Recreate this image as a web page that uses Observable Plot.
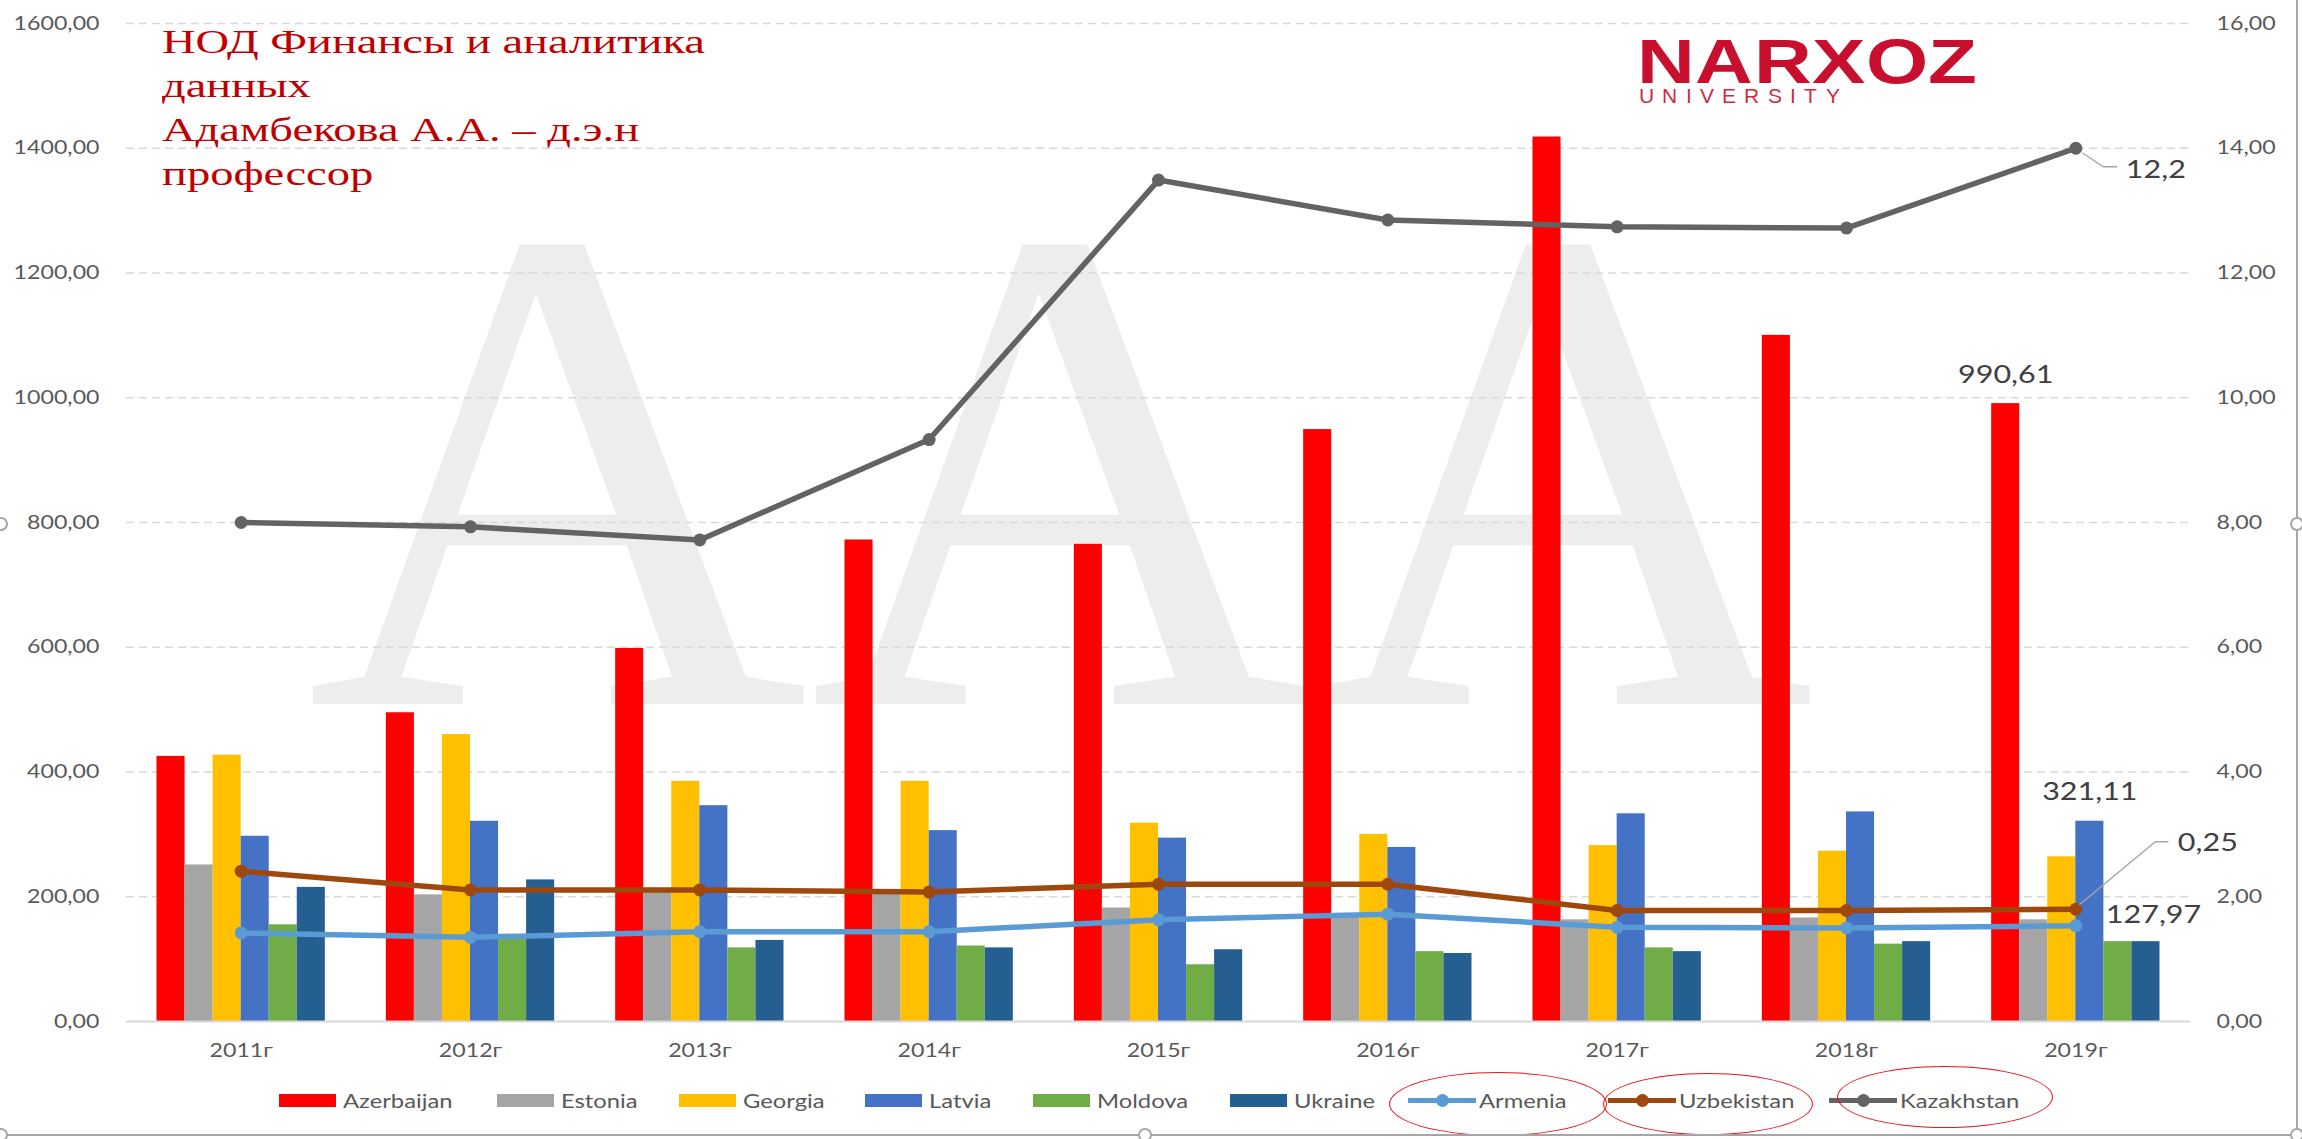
<!DOCTYPE html>
<html>
<head>
<meta charset="utf-8">
<script src="https://cdn.jsdelivr.net/npm/d3@7"></script>
<script src="https://cdn.jsdelivr.net/npm/@observablehq/plot@0.6"></script>
<style>
/* same faces with tight line metrics, so the text boxes hug the capitals */
@font-face { font-family: "WMSerif"; src: local("Liberation Serif"), local("LiberationSerif"); ascent-override: 67%; descent-override: 2%; line-gap-override: 0%; }
@font-face { font-family: "LogoBold"; src: local("Liberation Sans Bold"), local("LiberationSans-Bold"); ascent-override: 73%; descent-override: 2%; line-gap-override: 0%; }
@font-face { font-family: "LogoReg"; src: local("Liberation Sans"), local("LiberationSans"); ascent-override: 73%; descent-override: 2%; line-gap-override: 0%; }
html, body { margin: 0; padding: 0; background: #fff; }
#wrap { position: relative; width: 2302px; height: 1139px; overflow: hidden; background: #fff; font-family: Lato, "Noto Sans", sans-serif; }
#chart { position: absolute; left: 0; top: 0; }
#title { position: absolute; left: 162px; top: 20px; font-family: "Liberation Serif", serif; font-size: 33px; line-height: 44px; color: #C00000; transform: scaleX(1.41); transform-origin: left top; white-space: nowrap; }
#logo1 { position: absolute; left: 1637px; top: 37px; font-family: "LogoBold", "Liberation Sans", Arial, sans-serif; font-size: 63px; line-height: 47.3px; height: 47.3px; color: #C8102E; transform: scaleX(1.27); transform-origin: left top; white-space: nowrap; }
#logo2 { position: absolute; left: 1639px; top: 87.7px; font-family: "LogoReg", "Liberation Sans", Arial, sans-serif; font-size: 21px; line-height: 15.8px; height: 15.8px; color: #D02A44; letter-spacing: 8.3px; white-space: nowrap; }
.lg { position: absolute; top: 1088px; height: 24px; display: flex; align-items: center; white-space: nowrap; }
.sw { display: inline-block; width: 57px; height: 13px; margin-right: 7px; }
.ls { position: relative; display: inline-block; width: 68px; height: 24px; margin-right: 3px; }
.ls .ln { position: absolute; left: 0; right: 0; top: 9.5px; height: 5px; }
.ls .mk { position: absolute; left: 27.5px; top: 5.5px; width: 13px; height: 13px; border-radius: 50%; }
.tx { display: inline-block; font-size: 19.5px; color: #595959; transform: scaleX(1.22); transform-origin: left center; }
.ell { position: absolute; border: 1.6px solid #E8141B; border-radius: 50%; box-sizing: border-box; }
.frame { position: absolute; background: #A6A6A6; }
.handle { position: absolute; width: 14px; height: 14px; border-radius: 50%; background: #fff; border: 2px solid #A6A6A6; box-sizing: border-box; }
</style>
</head>
<body>
<div id="wrap">
  <svg width="2302" height="1139" style="position:absolute;left:0;top:0;" aria-hidden="true"><text x="306" y="704" fill="#EDEDED" style="font-family:WMSerif,'Liberation Serif',serif;font-size:696px;">ААА</text></svg>
  <div id="chart"></div>
  <div id="title">НОД Финансы и аналитика<br>данных<br>Адамбекова А.А. – д.э.н<br>профессор</div>
  <div id="logo1">NARXOZ</div>
  <div id="logo2">UNIVERSITY</div>
  <div id="legend"></div>
</div>
<script>
// ---------- DATA ----------
const years = ["2011г", "2012г", "2013г", "2014г", "2015г", "2016г", "2017г", "2018г", "2019г"];
const barSeries = ["Azerbaijan", "Estonia", "Georgia", "Latvia", "Moldova", "Ukraine"];
const azerbaijan = [425, 495, 598, 772, 765, 949, 1418, 1100, 990.61];
const estonia    = [251, 203, 208, 206, 182, 168, 163, 166, 163];
const georgia    = [427, 460, 385, 385, 318, 300, 282, 273, 264];
const latvia     = [297, 321, 346, 306, 294, 279, 333, 336, 321.11];
const moldova    = [155, 134, 118, 121, 91, 112, 118, 124, 128];
const ukraine    = [215, 227, 130, 118, 115, 109, 112, 128, 128];
// line series on the secondary (right) axis
const lineSeries = ["Armenia", "Uzbekistan", "Kazakhstan"];
const armenia    = [1.42, 1.35, 1.44, 1.44, 1.63, 1.72, 1.51, 1.50, 1.535];
const uzbekistan = [2.41, 2.11, 2.11, 2.075, 2.20, 2.20, 1.78, 1.78, 1.80];
const kazakhstan = [8.00, 7.93, 7.72, 9.33, 13.49, 12.85, 12.74, 12.72, 14.00];
const leftTicks  = [0, 200, 400, 600, 800, 1000, 1200, 1400, 1600];
const rightTicks = [0, 2, 4, 6, 8, 10, 12, 14, 16];
const barLabels   = [{series: "Azerbaijan", year: "2019г"}, {series: "Latvia", year: "2019г"}];
const pointLabels = [
  {series: "Kazakhstan", year: "2019г", text: "12,2"},
  {series: "Uzbekistan", year: "2019г", text: "0,25"},
  {series: "Armenia",    year: "2019г", text: "127,97"}
];

// ---------- STYLE ----------
const barColors  = ["#FF0000", "#A5A5A5", "#FFC000", "#4472C4", "#70AD47", "#255E91"];
const lineColors = ["#5B9BD5", "#9E480E", "#636363"];
const RATIO = 100;          // left axis = right axis * 100
const GROUP = 0.734;        // share of a category occupied by the bar group
const BW = GROUP / barSeries.length;
const STRETCH = 1.22;
const labelLayout = [
  {dx: 50, dy: 21.5, path: [[7, 5], [28, 19], [42, 19]]},
  {dx: 102, dy: -66, path: [[4, -4], [80, -67], [93, -67]]},
  {dx: 30, dy: -11, path: null}
];
const legendLeft = [279, 497, 679, 865, 1033, 1230, 1408, 1608, 1829];
const ellipses = [[1389, 1072, 218, 64], [1603, 1073, 210, 62], [1837, 1066, 216, 62]];

// ---------- TABLES ----------
const barValues = {Azerbaijan: azerbaijan, Estonia: estonia, Georgia: georgia, Latvia: latvia, Moldova: moldova, Ukraine: ukraine};
const lineValues = {Armenia: armenia, Uzbekistan: uzbekistan, Kazakhstan: kazakhstan};
const bars = barSeries.flatMap((s, k) => years.map((y, i) => ({series: s, i, k, value: barValues[s][i]})));
const points = lineSeries.flatMap(s => years.map((y, i) => ({series: s, i, value: lineValues[s][i]})));
const fmt = v => v.toFixed(2).replace(".", ",");
const barLabelData = barLabels.map(b => {
  const i = years.indexOf(b.year), k = barSeries.indexOf(b.series), v = barValues[b.series][i];
  return {x: i - GROUP / 2 + (k + 0.5) * BW, y: v, text: fmt(v)};
});
const pointLabelData = pointLabels.map(p => {
  const i = years.indexOf(p.year);
  return {x: i, y: lineValues[p.series][i] * RATIO, text: p.text};
});

function leaders(index, scales) {
  const g = d3.create("svg:g").attr("fill", "none").attr("stroke", "#A6A6A6").attr("stroke-width", 1.3);
  pointLabelData.forEach((d, j) => {
    const L = labelLayout[j];
    if (!L.path) return;
    const x0 = scales.x(d.x), y0 = scales.y(d.y);
    g.append("path").attr("d", "M" + L.path.map(([a, b]) => (x0 + a) + "," + (y0 + b)).join("L"));
  });
  return g.node();
}

const plot = Plot.plot({
  width: 2302,
  height: 1075,
  marginTop: 23,
  marginBottom: 54,
  marginLeft: 126,
  marginRight: 112,
  style: {background: "transparent", fontFamily: "Lato, 'Noto Sans', sans-serif", fontSize: "19px", color: "#595959"},
  x: {type: "linear", domain: [-0.5, years.length - 0.5]},
  y: {domain: [0, 1600]},
  color: {domain: [...barSeries, ...lineSeries], range: [...barColors, ...lineColors]},
  marks: [
    Plot.gridY({ticks: leftTicks.filter(d => d > 0), stroke: "#D9D9D9", strokeOpacity: 1, strokeWidth: 1.3, strokeDasharray: "8,5"}),
    Plot.rectY(bars, {
      x1: d => d.i - GROUP / 2 + d.k * BW,
      x2: d => d.i - GROUP / 2 + (d.k + 1) * BW,
      y1: 0, y2: "value", fill: "series"
    }),
    Plot.ruleY([0], {stroke: "#D9D9D9", strokeWidth: 2}),
    Plot.line(points, {x: "i", y: d => d.value * RATIO, z: "series", stroke: "series", strokeWidth: 5.5, strokeLinejoin: "round"}),
    Plot.dot(points, {x: "i", y: d => d.value * RATIO, fill: "series", r: 6.5}),
    Plot.axisX({ticks: d3.range(years.length), tickFormat: i => years[i], tickSize: 0, tickPadding: 22, label: null}),
    Plot.axisY({anchor: "left", ticks: leftTicks, tickFormat: fmt, tickSize: 0, tickPadding: 27, label: null}),
    Plot.axisY({anchor: "right", ticks: rightTicks.map(t => t * RATIO), tickFormat: d => fmt(d / RATIO), tickSize: 0, tickPadding: 26, label: null}),
    Plot.text(barLabelData, {x: "x", y: "y", text: "text", dy: -29, fontSize: 25, fill: "#404040"}),
    leaders,
    ...pointLabelData.map((d, j) => Plot.text([d], {x: "x", y: "y", text: "text", dx: labelLayout[j].dx, dy: labelLayout[j].dy, textAnchor: "start", fontSize: 25, fill: "#404040"}))
  ]
});
document.getElementById("chart").appendChild(plot);

// widen the lettering like the (horizontally stretched) original
plot.querySelectorAll("text").forEach(t => {
  const L = t.getComputedTextLength();
  if (L > 0) { t.setAttribute("textLength", (L * STRETCH).toFixed(1)); t.setAttribute("lengthAdjust", "spacingAndGlyphs"); }
});

// ---------- LEGEND (HTML) ----------
const legend = document.getElementById("legend");
const allSeries = [...barSeries, ...lineSeries];
const allColors = [...barColors, ...lineColors];
allSeries.forEach((s, j) => {
  const item = document.createElement("div");
  item.className = "lg";
  item.style.left = legendLeft[j] + "px";
  if (j < barSeries.length) {
    item.innerHTML = `<span class="sw" style="background:${allColors[j]}"></span><span class="tx">${s}</span>`;
  } else {
    item.innerHTML = `<span class="ls"><span class="ln" style="background:${allColors[j]}"></span><span class="mk" style="background:${allColors[j]}"></span></span><span class="tx">${s}</span>`;
  }
  legend.appendChild(item);
});
const wrap = document.getElementById("wrap");
ellipses.forEach(([l, t, w, h]) => {
  const e = document.createElement("div");
  e.className = "ell";
  Object.assign(e.style, {left: l + "px", top: t + "px", width: w + "px", height: h + "px"});
  wrap.appendChild(e);
});
// chart-object frame and selection handles
[[2296, 0, 2, 1139], [0, 1134, 2302, 2]].forEach(([l, t, w, h]) => {
  const f = document.createElement("div");
  f.className = "frame";
  Object.assign(f.style, {left: l + "px", top: t + "px", width: w + "px", height: h + "px"});
  wrap.appendChild(f);
});
[[1, 524], [2297, 524], [1145, 1135], [2297, 1135], [1, 1135]].forEach(([cx, cy]) => {
  const h = document.createElement("div");
  h.className = "handle";
  Object.assign(h.style, {left: (cx - 7) + "px", top: (cy - 7) + "px"});
  wrap.appendChild(h);
});
</script>
</body>
</html>
